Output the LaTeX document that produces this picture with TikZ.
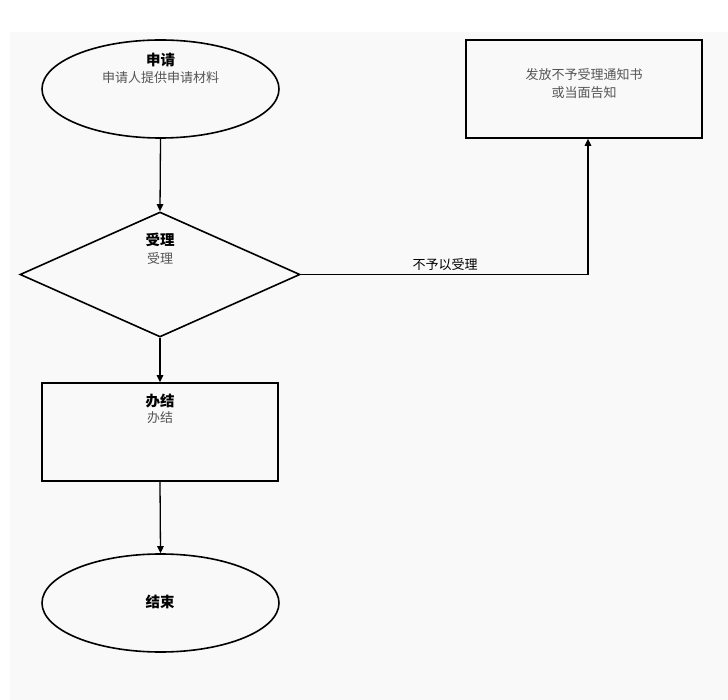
\documentclass[tikz,border=0pt]{standalone}
\usepackage{fontspec}
\setmainfont{Noto Sans CJK SC}
\usetikzlibrary{shapes.geometric,arrows.meta}
\definecolor{bg}{HTML}{F9F9F9}
\definecolor{subgray}{HTML}{555555}
\begin{document}
\begin{tikzpicture}[x=1pt,y=-1pt,
  shapeline/.style={draw=black,line width=1.6pt,inner sep=0pt},
  titletext/.style={font=\fontsize{14.5}{16}\selectfont\bfseries,text=black,inner sep=0pt},
  subtext/.style={font=\fontsize{13}{15}\selectfont,text=subgray,inner sep=0pt},
  conn/.style={draw=black,line width=1.3pt,-{Triangle[length=7pt,width=6.5pt]}}
]
\useasboundingbox (0,0) rectangle (728,700);
\fill[bg] (10,32) rectangle (728,700);

% start ellipse
\node[shapeline,ellipse,minimum width=237pt,minimum height=98pt] (start) at (160.5,89) {};
\node[titletext] (startT) at (160.5,60) {申请};
\node[subtext] (startS) at (160.5,78) {申请人提供申请材料};

% diamond
\node[shapeline,diamond,minimum width=280pt,minimum height=125pt] (accept) at (160,274.5) {};
\node[titletext] (acceptT) at (160,240) {受理};
\node[subtext] (acceptS) at (160,259) {受理};

% done box
\node[shapeline,rectangle,minimum width=236pt,minimum height=98pt] (done) at (160,432) {};
\node[titletext] (doneT) at (160,401) {办结};
\node[subtext] (doneS) at (160,418) {办结};

% end ellipse
\node[shapeline,ellipse,minimum width=237pt,minimum height=98pt] (finish) at (160.5,603) {};
\node[titletext] (finishT) at (160,602) {结束};

% reject box
\node[shapeline,rectangle,minimum width=236pt,minimum height=98pt] (reject) at (584,89) {};
\node[subtext,align=center,font=\fontsize{13}{18}\selectfont] (rejectT) at (584,84) {发放不予受理通知书\\或当面告知};

% connectors
\draw[conn] (start.south) -- (accept.north);
\draw[conn] (accept.south) -- (done.north);
\draw[conn] (done.south) -- (finish.north);
\coordinate (corner) at (588,274.5);
\draw[conn] (accept.east) -- (corner) -- (reject.south -| corner);
\node[font=\fontsize{13}{15}\selectfont,text=black,inner sep=0pt] (rejL) at (445,265) {不予以受理};
\end{tikzpicture}
\end{document}
